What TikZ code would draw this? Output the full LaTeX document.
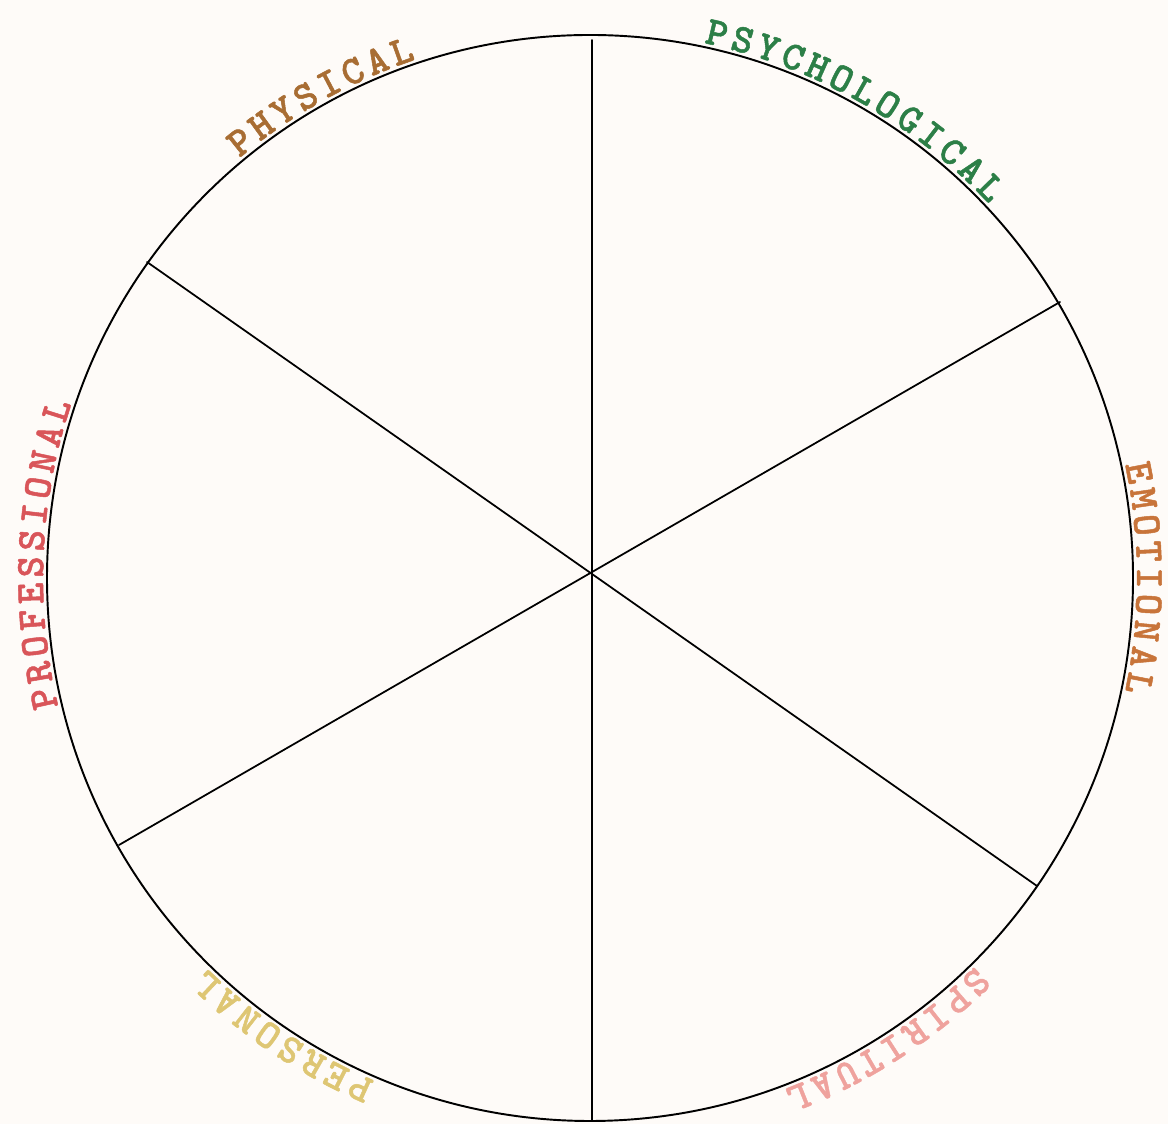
\documentclass[tikz,border=0pt]{standalone}
\usepackage{fontspec}
\newfontfamily\wheelfont{lmmonolt10-bold.otf}[FakeBold=1.2]
\definecolor{wheelbg}{HTML}{FEFBF8}
\definecolor{physical}{HTML}{A86D33}
\definecolor{psychological}{HTML}{2C7F47}
\definecolor{emotional}{HTML}{C8743A}
\definecolor{spiritual}{HTML}{EFA29D}
\definecolor{personal}{HTML}{DEC673}
\definecolor{professional}{HTML}{D95559}
\tikzset{
  wheeltext/.style={font=\wheelfont\fontsize{23}{23}\selectfont,anchor=base,inner sep=0pt},
  spoke/.style={line width=1pt}
}
% letters set one by one, clockwise round the wheel
\newcommand\wheellabel[4]{%
  \foreach \ch [count=\i] in {#4} {
    \pgfmathsetmacro\ang{#2+(#3-1)*1.36-(\i-1)*2.72}
    \node[wheeltext,text=#1,rotate=\ang-90] (#1-\i) at ([shift={(\ang:547)}]wc) {\ch};
  }
}
\begin{document}
\begin{tikzpicture}[x=0.02cm,y=0.02cm,line cap=round]
\useasboundingbox[fill=wheelbg] (0,0) rectangle (1168,1124);
\coordinate (wc) at (590,546);
\draw[line width=1.1pt] (wc) circle (543);
% spoke ends
\coordinate (top) at (592,1084);
\coordinate (bot) at (592,4);
\coordinate (ul) at (147,862);
\coordinate (lr) at (1037,238);
\coordinate (ur) at (1060,822);
\coordinate (ll) at (119,279);
\draw[spoke] (top) -- (bot);
\draw[spoke] (ul) -- (lr);
\draw[spoke] (ur) -- (ll);
% labels
\wheellabel{physical}{119.2}{8}{P,H,Y,S,I,C,A,L}
\wheellabel{psychological}{61.9}{12}{P,S,Y,C,H,O,L,O,G,I,C,A,L}
\wheellabel{emotional}{0}{9}{E,M,O,T,I,O,N,A,L}
\wheellabel{spiritual}{-57.2}{9}{S,P,I,R,I,T,U,A,L}
\wheellabel{personal}{-123.8}{8}{P,E,R,S,O,N,A,L}
\wheellabel{professional}{177.5}{12}{P,R,O,F,E,S,S,I,O,N,A,L}
\end{tikzpicture}
\end{document}
